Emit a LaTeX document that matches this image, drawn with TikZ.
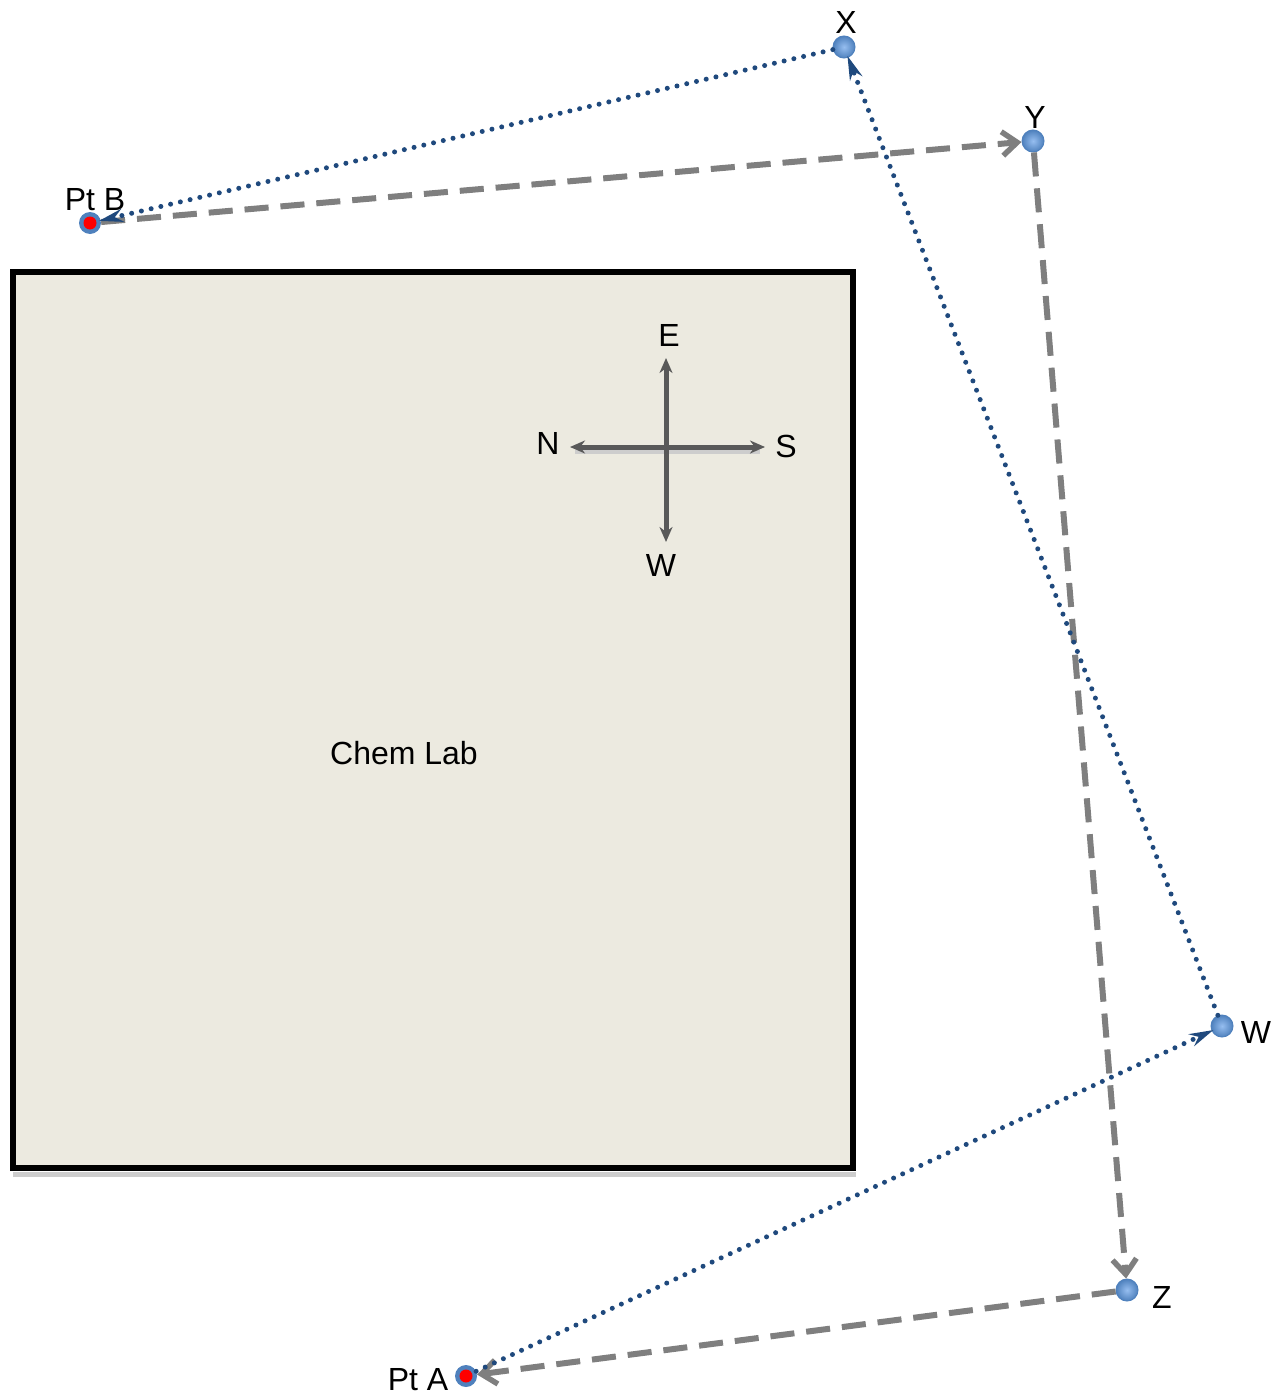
\documentclass[tikz,border=0pt]{standalone}
\usepackage{fontspec}
\setmainfont{Liberation Sans}
\usetikzlibrary{arrows.meta}

\definecolor{labfill}{RGB}{236,234,224}
\definecolor{ptblue}{RGB}{79,129,189}
\definecolor{ptlight}{RGB}{150,190,240}
\definecolor{routeblue}{RGB}{31,73,125}
\definecolor{routegray}{RGB}{127,127,127}
\definecolor{compassgray}{RGB}{89,89,89}
\definecolor{shadowgray}{RGB}{205,205,205}

\tikzset{
  txt/.style={font=\fontsize{32}{38}\selectfont, inner sep=0pt},
  waypt/.style={circle, minimum size=22pt, inner sep=0pt, inner color=ptlight, outer color=ptblue,
    draw=ptblue, line width=1pt},
  endpt/.style={circle, minimum size=22pt, inner sep=0pt, fill=ptblue,
    path picture={\fill[red] (path picture bounding box.center) circle (6.5pt);}},
  dotroute/.style={draw=routeblue, line width=5pt, line cap=round, dash pattern=on 0pt off 10pt,
    -{Stealth[length=24pt, width=13pt, fill=routeblue]}, shorten >=-2pt},
  dashroute/.style={draw=routegray, line width=6pt, dash pattern=on 24pt off 12pt,
    -{Straight Barb[length=15pt, width=24pt, line width=5.5pt]}},
  dashshadow/.style={draw=shadowgray, line width=4pt, dash pattern=on 24pt off 12pt, shorten >=16pt},
  compassline/.style={draw=compassgray, line width=5pt, {Stealth[length=15pt, width=13pt]}-{Stealth[length=15pt, width=13pt]}},
  labbox/.style={draw=black, line width=6.5pt, fill=labfill}
}

\begin{document}
\begin{tikzpicture}[x=1pt, y=-1pt]
\useasboundingbox (0,0) rectangle (1274,1397);

% lab room with its soft shadow along the bottom edge
\fill[shadowgray] (13,1172) rectangle (856,1177);
\draw[labbox] (13,272) rectangle (853,1168);
\node[txt] (lab) at (404,753) {Chem Lab};

% compass rose
\coordinate (cc) at (666,447);
\coordinate (cE) at (666,358);
\coordinate (cW) at (666,542);
\coordinate (cN) at (570,447);
\coordinate (cS) at (765,447);
\coordinate (cNs) at (575,452);
\coordinate (cSs) at (760,452);
\draw[draw=shadowgray, line width=4pt] (cNs) -- (cSs);
\draw[compassline] (cN) -- (cS);
\draw[compassline] (cW) -- (cE);
\node[txt] (lE) at (669,335) {E};
\node[txt] (lW) at (661,565) {W};
\node[txt] (lN) at (548,443) {N};
\node[txt] (lS) at (786,446) {S};

% points
\node[endpt] (ptB) at (90,223) {};
\node[endpt] (ptA) at (466,1376) {};
\node[waypt] (X) at (844,47) {};
\node[waypt] (Y) at (1033,141) {};
\node[waypt] (W) at (1222,1026) {};
\node[waypt] (Z) at (1127,1290) {};

\node[txt] (lPtB) at (95,200) {Pt B};
\node[txt] (lPtA) at (418,1380) {Pt A};
\node[txt] (lX) at (846,22) {X};
\node[txt] (lY) at (1035,117) {Y};
\node[txt] (lWp) at (1256,1032) {W};
\node[txt] (lZ) at (1162,1297) {Z};

% faint shadows beneath the dashed route
\begin{scope}[yshift=-6pt]
\draw[dashshadow] (ptB) -- (Y);
\draw[dashshadow] (Z) -- (ptA);
\end{scope}
\begin{scope}[xshift=4pt]
\draw[dashshadow] (Y) -- (Z);
\end{scope}

% dashed route: Pt B -> Y -> Z -> Pt A
\draw[dashroute] (ptB) -- (Y);
\draw[dashroute] (Y) -- (Z);
\draw[dashroute] (Z) -- (ptA);

% dotted route: Pt A -> W -> X -> Pt B
\draw[dotroute] (ptA) -- (W);
\draw[dotroute] (W) -- (X);
\draw[dotroute] (X) -- (ptB);
\end{tikzpicture}
\end{document}
